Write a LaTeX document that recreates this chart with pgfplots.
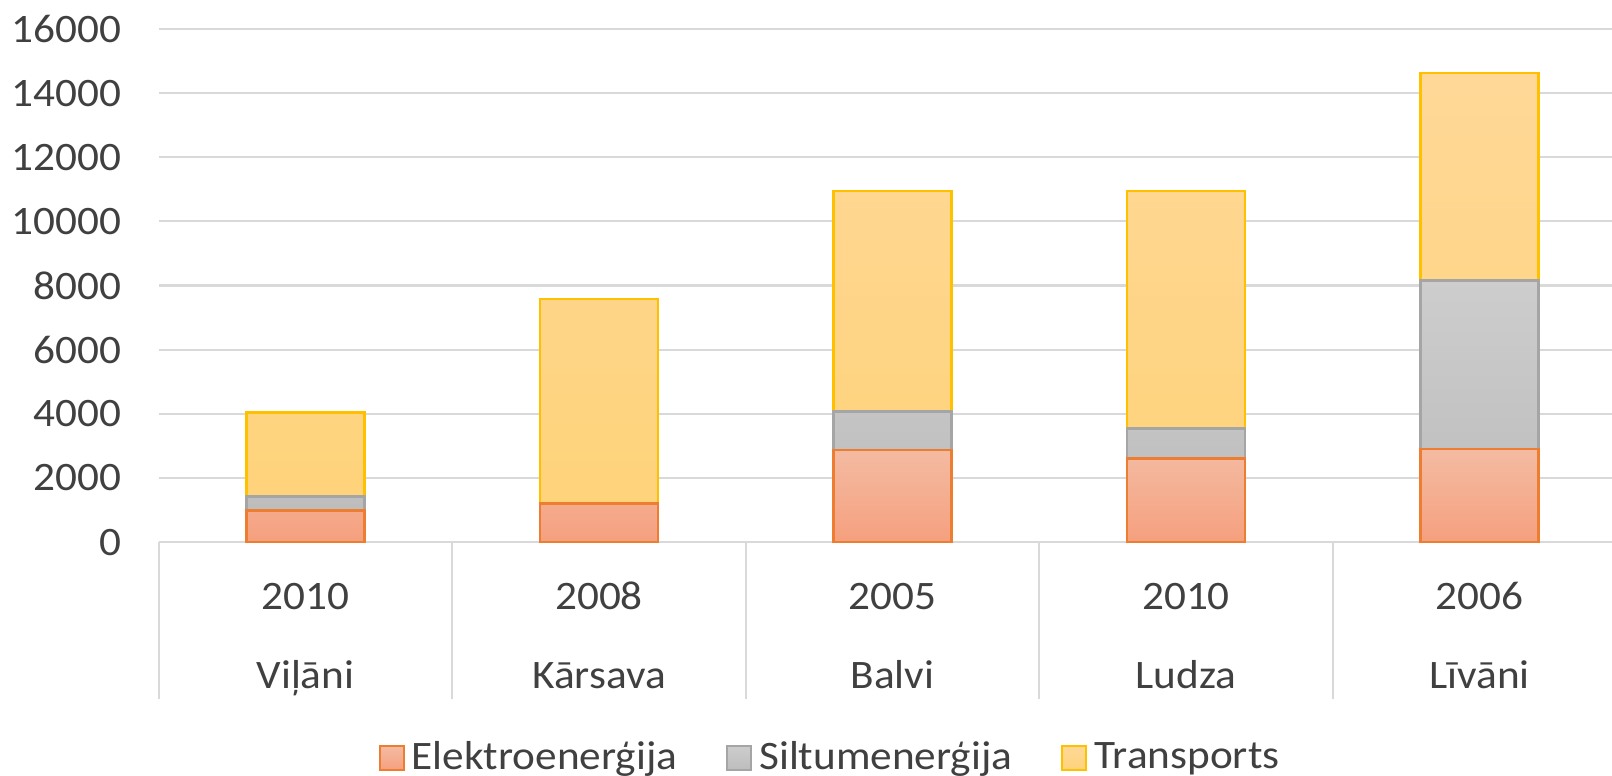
\documentclass[border=0pt]{standalone}
\usepackage{fontspec}
\setmainfont[FakeStretch=1.07]{Carlito}
\usepackage{pgfplots}
\pgfplotsset{compat=1.18}
\usepackage{pgfplotstable}
\definecolor{elecb}{HTML}{ED7D31}
\definecolor{elect}{HTML}{F4BBA2}
\definecolor{elecbot}{HTML}{F5A07E}
\definecolor{siltb}{HTML}{A5A5A5}
\definecolor{siltt}{HTML}{CDCDCD}
\definecolor{siltbot}{HTML}{BDBDBD}
\definecolor{transb}{HTML}{FFC000}
\definecolor{transt}{HTML}{FFD898}
\definecolor{transbot}{HTML}{FED37A}
\definecolor{gridc}{HTML}{D9D9D9}
\definecolor{textc}{HTML}{404040}

\pgfplotstableread{
x elec silt trans
0 980  440  2630
1 1190 0    6390
2 2870 1210 6870
3 2610 940  7400
4 2900 5250 6480
}\datatable

\begin{document}
\begin{tikzpicture}
\useasboundingbox (-15.88mm,-23.3mm) rectangle (145.32mm,54.2mm);
\begin{axis}[
  at={(0,0)}, anchor=south west,
  scale only axis, width=145.3mm, height=51.3mm,
  ybar stacked, bar width=11.8mm,
  xmin=-0.5, xmax=4.451, ymin=0, ymax=16000,
  ytick={0,2000,...,16000},
  xtick={0,1,2,3,4},
  xticklabels={{\strut 2010\\[8.7pt]\strut Viļāni},{\strut 2008\\[8.7pt]\strut Kārsava},{\strut 2005\\[8.7pt]\strut Balvi},{\strut 2010\\[8.7pt]\strut Ludza},{\strut 2006\\[8.7pt]\strut Līvāni}},
  axis line style={draw=none},
  major tick length=0pt,
  ymajorgrids, grid style={color=gridc, line width=0.6pt},
  scaled y ticks=false,
  /pgf/number format/1000 sep={},
  /pgf/number format/assume math mode=true,
  tick label style={text=textc, font=\fontsize{11.5}{13.8}\selectfont},
  yticklabel style={xshift=-7.2pt},
  xticklabel style={align=center, inner sep=0pt, anchor=north, yshift=-3.25mm},
  clip=false,
  legend style={at={(axis description cs:0.4637,-0.421)}, anchor=center, draw=none,
    font=\fontsize{11.5}{13.8}\selectfont, text=textc,
    nodes={inner xsep=2pt},
    /tikz/every even column/.append style={column sep=4.2mm}},
  legend columns=3,
  legend image code/.code={\draw[#1, line width=0.6pt] (0mm,-1.2mm) rectangle (2.4mm,1.2mm);},
]
\addplot[draw=elecb, line width=0.8pt, top color=elect, bottom color=elecbot] table[x=x, y=elec] {\datatable};
\addplot[draw=siltb, line width=0.8pt, top color=siltt, bottom color=siltbot] table[x=x, y=silt] {\datatable};
\addplot[draw=transb, line width=0.8pt, top color=transt, bottom color=transbot] table[x=x, y=trans] {\datatable};
\legend{Elektroenerģija, Siltumenerģija, Transports}
\pgfplotsinvokeforeach{-0.5,0.5,1.5,2.5,3.5}{
  \draw[gridc, line width=0.6pt] (axis cs:#1,0) -- ([yshift=-15.7mm]axis cs:#1,0);
}
\end{axis}
\end{tikzpicture}
\end{document}
